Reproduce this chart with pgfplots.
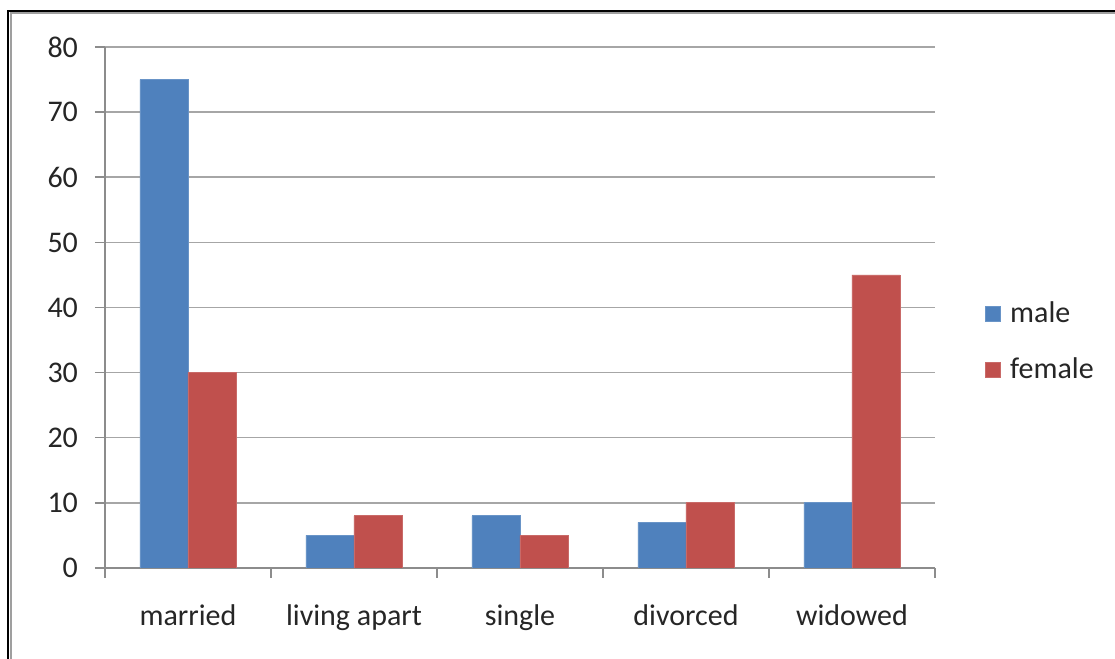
\documentclass[border=0pt]{standalone}
\usepackage{pgfplots}
\pgfplotsset{compat=1.18}
\usepackage{fontspec}
\setmainfont{Carlito}
\definecolor{exblue}{HTML}{4F81BD}
\definecolor{exred}{HTML}{C0504D}
\definecolor{gridgray}{HTML}{A6A6A6}
\definecolor{axgray}{HTML}{8C8C8C}
\begin{document}
\begin{tikzpicture}
\useasboundingbox (0,0) rectangle (557.5pt,329.5pt);
\fill[white] (0,0) rectangle (557.5pt,329.5pt);
\draw[black,line width=1pt] (3.75pt,-5pt) -- (3.75pt,323.75pt) -- (570pt,323.75pt);
\draw[gray!75,line width=1pt] (5.25pt,-5pt) -- (5.25pt,322.75pt) -- (570pt,322.75pt);
\begin{axis}[
  at={(52.5pt,45.5pt)}, anchor=south west,
  scale only axis, width=415pt, height=260.5pt,
  ymin=0, ymax=80, ytick={0,10,...,80},
  xmin=-0.5, xmax=4.5,
  xtick={0,1,2,3,4},
  xticklabels={married,living apart,single,divorced,widowed},
  minor xtick={-0.5,0.5,1.5,2.5,3.5,4.5},
  axis x line=bottom, axis y line=left,
  axis line style={axgray, line width=0.75pt, -},
  x axis line style={-}, y axis line style={-},
  ymajorgrids, grid style={gridgray, line width=0.75pt},
  tick align=outside,
  major tick length=5pt, minor tick length=5pt,
  x tick style={draw=none}, 
  minor x tick style={draw=axgray, line width=0.75pt},
  y tick style={draw=axgray, line width=0.75pt},
  tick label style={font=\fontsize{15}{18}\selectfont, text=black!85},
  /pgf/number format/assume math mode=true,
  xticklabel style={anchor=base, yshift=-24pt},
  yticklabel style={anchor=east, xshift=-5pt},
  ybar, bar width=24pt,
  legend style={at={(1,0.4386)}, anchor=west, xshift=22pt, yshift=-1pt, draw=none, fill=none,
    font=\fontsize{15}{18}\selectfont, row sep=12pt, text=black!85},
  legend cell align=left,
  legend image code/.code={\fill[#1] (0pt,-3.75pt) rectangle (7.5pt,3.75pt); \path (10pt,0pt);},
]
\addplot[fill=exblue, draw=exblue!85!white, line width=0.4pt, bar shift=-12pt] coordinates {(0,75) (1,5) (2,8) (3,7) (4,10)};
\addplot[fill=exred, draw=exred!85!white, line width=0.4pt, bar shift=12pt] coordinates {(0,30) (1,8) (2,5) (3,10) (4,45)};
\legend{male,female}
\end{axis}
\end{tikzpicture}
\end{document}
